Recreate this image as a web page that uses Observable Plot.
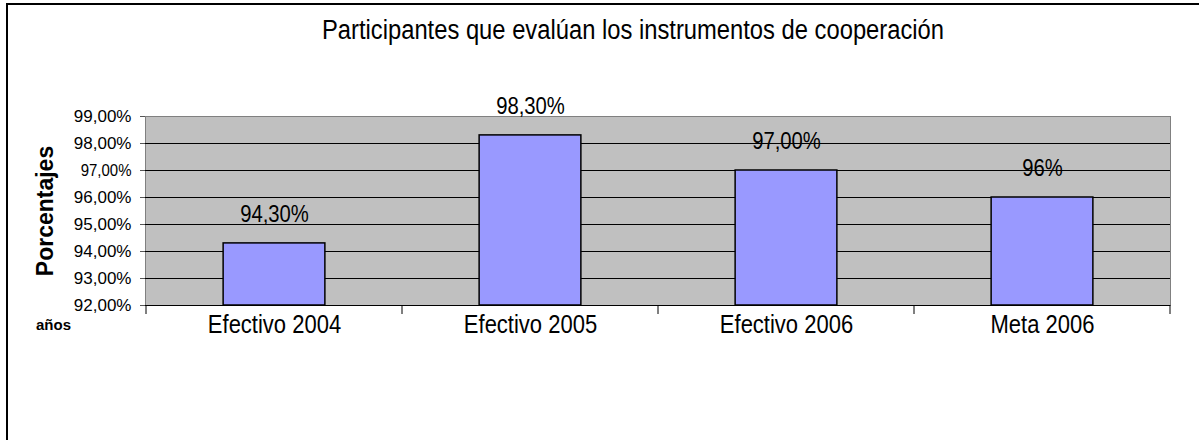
<!DOCTYPE html>
<html><head><meta charset="utf-8">
<script src="https://cdn.jsdelivr.net/npm/d3@7"></script>
<script src="https://cdn.jsdelivr.net/npm/@observablehq/plot@0.6"></script>
<style>
body{margin:0;background:#fff;}
#chart{position:relative;width:1199px;height:440px;overflow:hidden;}
#frame{position:absolute;left:6px;top:3px;width:1300px;height:500px;border-left:2px solid #000;border-top:2px solid #000;pointer-events:none;}
</style></head><body><div id="chart"><div id="frame"></div></div>
<script>
const categories = ["Efectivo 2004", "Efectivo 2005", "Efectivo 2006", "Meta 2006"];
const values = [94.3, 98.3, 97.0, 96.0];
const valueLabels = ["94,30%", "98,30%", "97,00%", "96%"];
const yTicks = [92, 93, 94, 95, 96, 97, 98, 99];
const yTickLabels = ["92,00%", "93,00%", "94,00%", "95,00%", "96,00%", "97,00%", "98,00%", "99,00%"];
const title = "Participantes que evalúan los instrumentos de cooperación";
const yLabel = "Porcentajes";
const xLabel = "años";

const data = categories.map((c, i) => ({category: c, value: values[i], label: valueLabels[i]}));
const W = 1199, H = 440, ml = 145, mr = 29, mt = 116, mb = 135;
const step = (W - ml - mr) / categories.length;
const barW = 102;
const inset = (step - barW) / 2;
const sans = "'Liberation Sans', Arial, sans-serif";

const plot = Plot.plot({
  width: W, height: H,
  marginLeft: ml, marginRight: mr, marginTop: mt, marginBottom: mb,
  style: {fontFamily: sans, background: "transparent", overflow: "visible", color: "#000"},
  x: {type: "band", domain: categories, padding: 0},
  y: {domain: [92, 99]},
  marks: [
    Plot.frame({fill: "#C0C0C0", stroke: "#808080"}),
    Plot.ruleY(yTicks.slice(1, -1), {stroke: "#000", strokeWidth: 1}),
    Plot.barY(data, {x: "category", y1: 92, y2: "value", fill: "#9999FF", stroke: "#000", strokeWidth: 1.5, insetLeft: inset, insetRight: inset}),
    Plot.ruleY([92], {stroke: "#000"}),
    Plot.axisY({ticks: yTicks, tickFormat: d => yTickLabels[yTicks.indexOf(d)], tickSize: 5, tickPadding: 9, fontSize: 17, label: null, stroke: "#555"}),
    Plot.axisX({tickSize: 0, tickPadding: 10, fontSize: 25, label: null}),
    Plot.text(data, {x: "category", y: "value", text: "label", dy: -29, fontSize: 23, lineAnchor: "middle"}),
    Plot.text([title], {frameAnchor: "top", dx: -25, dy: -86, fontSize: 27, lineAnchor: "middle"}),
    Plot.text([yLabel], {frameAnchor: "left", dx: -100, rotate: -90, textAnchor: "middle", fontSize: 23, fontWeight: "bold", lineAnchor: "middle"}),
    Plot.text([xLabel], {frameAnchor: "bottom-left", textAnchor: "middle", dx: -92, dy: 20, fontSize: 15, fontWeight: "bold", lineAnchor: "middle"})
  ]
});

// category boundary ticks, placed with the plot's own x scale
const xs = plot.scale("x");
const ysc = plot.scale("y");
const bounds = categories.map(c => xs.apply(c)).concat([xs.apply(categories[categories.length - 1]) + xs.bandwidth]);
const y0 = ysc.apply(92);
d3.select(plot).append("g").selectAll("line").data(bounds).join("line")
  .attr("x1", d => d).attr("x2", d => d)
  .attr("y1", y0).attr("y2", y0 + 9)
  .attr("stroke", "#000");

document.getElementById("chart").prepend(plot);

// condensed (tall, narrow) look of the original lettering
const condensed = new Set([title, ...categories, ...valueLabels]);
d3.select(plot).selectAll("text").each(function() {
  if (condensed.has(this.textContent)) {
    const len = this.getComputedTextLength();
    this.setAttribute("textLength", (len * 0.88).toFixed(1));
    this.setAttribute("lengthAdjust", "spacingAndGlyphs");
  }
});
</script>
</body></html>
